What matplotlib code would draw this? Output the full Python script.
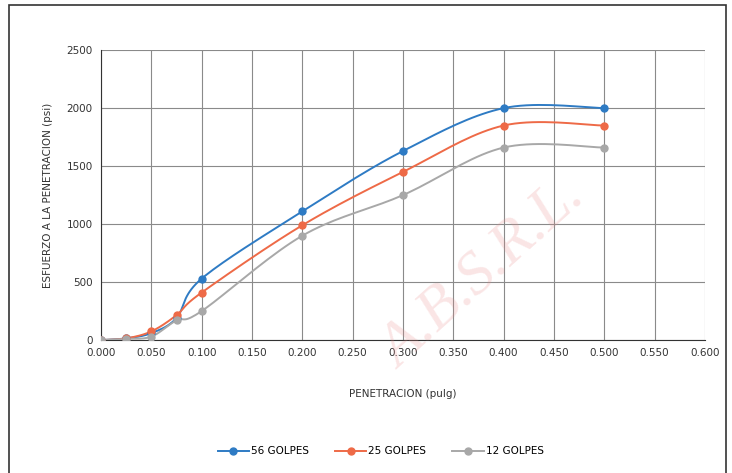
import numpy as np
import matplotlib
matplotlib.use("Agg")
import matplotlib.pyplot as plt
from matplotlib.patches import Rectangle

penetracion = [0.0, 0.025, 0.050, 0.075, 0.100, 0.200, 0.300, 0.400, 0.500]
golpes_56 = [0, 15, 60, 190, 530, 1110, 1630, 2000, 2000]
golpes_25 = [0, 15, 75, 215, 410, 990, 1450, 1850, 1850]
golpes_12 = [0, 10, 30, 170, 250, 900, 1250, 1660, 1660]
series_names = ["56 GOLPES", "25 GOLPES", "12 GOLPES"]
colors = ["#2E7BC4", "#EE6A47", "#A8A8A8"]
x_ticks = [0.0, 0.05, 0.1, 0.15, 0.2, 0.25, 0.3, 0.35, 0.4, 0.45, 0.5, 0.55, 0.6]
y_ticks = [0, 500, 1000, 1500, 2000, 2500]


def smooth(x, y, n=20):
    # Catmull-Rom style curve through the data points (Excel "smoothed line")
    x = np.asarray(x, float); y = np.asarray(y, float)
    px = np.concatenate([[x[0]], x, [x[-1]]])
    py = np.concatenate([[y[0]], y, [y[-1]]])
    xs, ys = [], []
    t = np.linspace(0, 1, n)
    for i in range(1, len(px) - 2):
        p0, p1, p2, p3 = [(px[j], py[j]) for j in (i - 1, i, i + 1, i + 2)]
        for a, (c0, c1, c2, c3) in enumerate(zip(p0, p1, p2, p3)):
            m1 = (c2 - c0) / 6.0
            m2 = (c3 - c1) / 6.0
            b = ((1 - t) ** 3 * c1 + 3 * (1 - t) ** 2 * t * (c1 + m1)
                 + 3 * (1 - t) * t ** 2 * (c2 - m2) + t ** 3 * c2)
            (xs if a == 0 else ys).append(b)
    return np.concatenate(xs), np.concatenate(ys)


fig = plt.figure(figsize=(7.32, 4.73), dpi=100)
fig.patch.set_facecolor("white")
fig.add_artist(Rectangle((0.012, -0.01), 0.98, 1.0, transform=fig.transFigure,
                         fill=False, edgecolor="#333333", linewidth=1.2))
ax = fig.add_axes([0.138, 0.281, 0.825, 0.613])

for vals, name, col in zip([golpes_56, golpes_25, golpes_12], series_names, colors):
    sx, sy = smooth(penetracion, vals)
    ax.plot(sx, sy, color=col, linewidth=1.4, zorder=3)
    ax.plot(penetracion, vals, linestyle="none", marker="o", markersize=5,
            color=col, zorder=4)
    ax.plot([], [], color=col, marker="o", markersize=5, linewidth=1.4, label=name)

ax.set_xlim(0, 0.6)
ax.set_ylim(0, 2500)
ax.set_xticks(x_ticks)
ax.set_xticklabels([f"{v:.3f}" for v in x_ticks], fontsize=7.5, color="#333333")
ax.set_yticks(y_ticks)
ax.set_yticklabels([str(v) for v in y_ticks], fontsize=7.5, color="#333333")
ax.tick_params(length=0, pad=6)
ax.grid(True, color="#8a8a8a", linewidth=0.8)
for s in ["top", "right"]:
    ax.spines[s].set_visible(False)
ax.spines["left"].set_color("#333333")
ax.spines["bottom"].set_color("#333333")
ax.set_axisbelow(True)

ax.set_xlabel("PENETRACION (pulg)", fontsize=7.5, color="#333333", labelpad=22)
ax.set_ylabel("ESFUERZO A LA PENETRACION (psi)", fontsize=7.5, color="#333333", labelpad=10)

fig.legend(loc="center", bbox_to_anchor=(0.52, 0.046), ncol=3, frameon=False,
           fontsize=7.5, handlelength=3, columnspacing=2.5, handletextpad=0.2)

fig.text(0.66, 0.42, "A.B.S.R.L.", fontsize=44, color="#e88a8a", alpha=0.22,
         rotation=42, ha="center", va="center", family="Liberation Serif", style="italic")

fig.savefig("out.png", dpi=100, facecolor="white")
